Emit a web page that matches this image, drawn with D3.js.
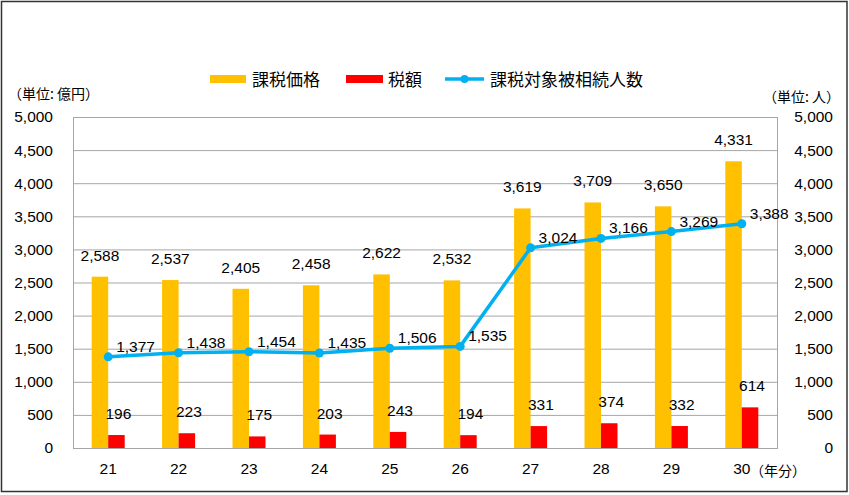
<!DOCTYPE html>
<html><head><meta charset="utf-8">
<script src="https://cdn.jsdelivr.net/npm/d3@7"></script>
<style>body{margin:0;background:#fff}svg{display:block}</style>
</head><body>
<svg id="c" width="849" height="495"></svg>
<script>
const categories = ["21","22","23","24","25","26","27","28","29","30"];
const taxableValue = [2588,2537,2405,2458,2622,2532,3619,3709,3650,4331];
const taxAmount = [196,223,175,203,243,194,331,374,332,614];
const decedents = [1377,1438,1454,1435,1506,1535,3024,3166,3269,3388];
const yTicks = [0,500,1000,1500,2000,2500,3000,3500,4000,4500,5000];
const seriesNames = ["課税価格","税額","課税対象被相続人数"];

const svg = d3.select("#c");
const numFont = "'Liberation Sans','Noto Sans',sans-serif";
const jpFont = "'Noto Sans CJK JP',sans-serif";
const fs = 15.5;
const fmt = d3.format(",");
const L=73, R=777, T=117, B=448;
const x = d3.scaleBand().domain(categories).range([L,R]);
const y = d3.scaleLinear().domain([0,5000]).range([B,T]);
const y2 = d3.scaleLinear().domain([0,5000]).range([B,T]);
const bw = 16.5;
const C = {orange:"#FFC000", red:"#FF0000", blue:"#00B0F0"};

svg.append("rect").attr("x",1.5).attr("y",1.5).attr("width",845.5).attr("height",490)
  .attr("fill","#fff").attr("stroke","#333").attr("stroke-width",1.5);

// gridlines
svg.append("g").selectAll("line").data(yTicks.slice(1)).join("line")
  .attr("x1",L).attr("x2",R).attr("y1",d=>y(d)+0.5).attr("y2",d=>y(d)+0.5)
  .attr("stroke","#a6a6a6").attr("stroke-width",1);
svg.append("rect").attr("x",L+0.5).attr("y",T+0.5).attr("width",R-L).attr("height",B-T)
  .attr("fill","none").attr("stroke","#a6a6a6");

// axes
const yl = d3.axisLeft(y).tickValues(yTicks).tickFormat(fmt).tickSize(0).tickPadding(20);
const gl = svg.append("g").attr("transform",`translate(${L},0)`).call(yl);
const yr = d3.axisRight(y2).tickValues(yTicks).tickFormat(fmt).tickSize(0).tickPadding(0);
const gr = svg.append("g").attr("transform",`translate(833,0)`).call(yr);
gr.selectAll("text").attr("text-anchor","end");
const xa = d3.axisBottom(x).tickSize(0).tickPadding(15);
const gx = svg.append("g").attr("transform",`translate(0,${B})`).call(xa);
[gl,gr,gx].forEach(g=>{g.select(".domain").remove();
  g.selectAll("text").attr("font-family",numFont).attr("font-size",fs).attr("fill","#000");});
gx.selectAll("text").attr("dy","0.71em");

// bars
svg.append("g").selectAll("rect").data(taxableValue).join("rect")
  .attr("x",(d,i)=>x(categories[i])+x.bandwidth()/2-bw).attr("width",bw)
  .attr("y",d=>y(d)).attr("height",d=>B-y(d)).attr("fill",C.orange);
svg.append("g").selectAll("rect").data(taxAmount).join("rect")
  .attr("x",(d,i)=>x(categories[i])+x.bandwidth()/2).attr("width",bw)
  .attr("y",d=>y(d)).attr("height",d=>B-y(d)).attr("fill",C.red);

// bar labels
svg.append("g").selectAll("text").data(taxableValue).join("text")
  .attr("x",(d,i)=>x(categories[i])+x.bandwidth()/2-bw/2).attr("y",d=>y(d)-16)
  .attr("text-anchor","middle").attr("font-family",numFont).attr("font-size",fs).text(fmt);
svg.append("g").selectAll("text").data(taxAmount).join("text")
  .attr("x",(d,i)=>x(categories[i])+x.bandwidth()/2+bw/2+2).attr("y",d=>y(d)-16)
  .attr("text-anchor","middle").attr("font-family",numFont).attr("font-size",fs).text(fmt);

// line
const cx = (i)=>x(categories[i])+x.bandwidth()/2;
svg.append("path").datum(decedents)
  .attr("d",d3.line().x((d,i)=>cx(i)).y(d=>y2(d)))
  .attr("fill","none").attr("stroke",C.blue).attr("stroke-width",3.5).attr("stroke-linejoin","round");
svg.append("g").selectAll("circle").data(decedents).join("circle")
  .attr("cx",(d,i)=>cx(i)).attr("cy",d=>y2(d)).attr("r",4.5).attr("fill",C.blue);
svg.append("g").selectAll("text").data(decedents).join("text")
  .attr("x",(d,i)=>cx(i)+8).attr("y",d=>y2(d)-5)
  .attr("font-family",numFont).attr("font-size",fs).text(fmt);

// unit labels
svg.append("text").attr("x",8).attr("y",99).attr("font-family",jpFont).attr("font-size",14).text("（単位: 億円）");
svg.append("text").attr("x",840).attr("y",102).attr("text-anchor","end").attr("font-family",jpFont).attr("font-size",14).text("（単位: 人）");
svg.append("text").attr("x",750).attr("y",476).attr("font-family",jpFont).attr("font-size",14).text("（年分）");

// legend
const lg = svg.append("g").attr("font-family",jpFont).attr("font-size",17);
lg.append("rect").attr("x",210).attr("y",75).attr("width",36).attr("height",8).attr("fill",C.orange);
lg.append("text").attr("x",252).attr("y",86).text(seriesNames[0]);
lg.append("rect").attr("x",346).attr("y",75).attr("width",37).attr("height",8).attr("fill",C.red);
lg.append("text").attr("x",388).attr("y",86).text(seriesNames[1]);
lg.append("line").attr("x1",445).attr("x2",484).attr("y1",79).attr("y2",79).attr("stroke",C.blue).attr("stroke-width",3.5);
lg.append("circle").attr("cx",464.5).attr("cy",79).attr("r",4).attr("fill",C.blue);
lg.append("text").attr("x",490).attr("y",86).text(seriesNames[2]);
</script>
</body></html>
